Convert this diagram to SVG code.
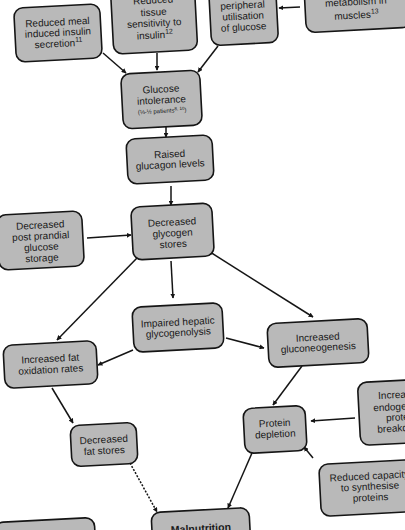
<svg xmlns="http://www.w3.org/2000/svg" width="405" height="530" viewBox="0 0 405 530">
<defs>
<style>
.box{fill:#b9b9b9;stroke:#151515;stroke-width:1.6}
text{font-family:"Liberation Sans",Arial,sans-serif;font-size:10px;fill:#1a1a1a;text-anchor:middle}
.sm{font-size:6px}
.b{font-weight:bold;font-size:10.5px}
.c{stroke:#151515;stroke-width:1.5;fill:none}
.d{stroke-dasharray:2 1.5}
</style>
<marker id="ah" viewBox="0 0 8 8" refX="7" refY="4" markerWidth="5" markerHeight="5" orient="auto" markerUnits="userSpaceOnUse">
<path d="M0,0 L8,4 L0,8 z" fill="#151515"/>
</marker>
</defs>
<rect width="405" height="530" fill="#ffffff"/>

<g id="connectors">
<line class="c" x1="300" y1="7" x2="279" y2="8" marker-end="url(#ah)"/>
<line class="c" x1="103" y1="53" x2="126" y2="73" marker-end="url(#ah)"/>
<line class="c" x1="157" y1="53" x2="157" y2="70" marker-end="url(#ah)"/>
<line class="c" x1="218" y1="46" x2="198" y2="72" marker-end="url(#ah)"/>
<line class="c" x1="166" y1="127" x2="166" y2="137" marker-end="url(#ah)"/>
<line class="c" x1="171" y1="186" x2="171" y2="205" marker-end="url(#ah)"/>
<line class="c" x1="87" y1="238" x2="131" y2="235" marker-end="url(#ah)"/>
<line class="c" x1="137" y1="258" x2="57" y2="340" marker-end="url(#ah)"/>
<line class="c" x1="171" y1="261" x2="173" y2="298" marker-end="url(#ah)"/>
<line class="c" x1="210" y1="252" x2="313" y2="317" marker-end="url(#ah)"/>
<line class="c" x1="133" y1="350" x2="98" y2="365" marker-end="url(#ah)"/>
<line class="c" x1="226" y1="338" x2="264" y2="348" marker-end="url(#ah)"/>
<line class="c" x1="302" y1="366" x2="273" y2="405" marker-end="url(#ah)"/>
<line class="c" x1="52" y1="388" x2="73" y2="423" marker-end="url(#ah)"/>
<line class="c" x1="355" y1="418" x2="311" y2="421" marker-end="url(#ah)"/>
<line class="c" x1="313" y1="458" x2="304" y2="447" marker-end="url(#ah)"/>
<line class="c" x1="252" y1="453" x2="228" y2="508" marker-end="url(#ah)"/>
<line class="c d" x1="130" y1="463" x2="157" y2="512" marker-end="url(#ah)"/>
</g>

<g id="n1" transform="rotate(-3 58 33)">
<rect class="box" x="15" y="6" width="86" height="54" rx="9"/>
<text x="58" y="25.5">Reduced meal</text>
<text x="58" y="36">induced insulin</text>
<text x="58" y="47">secretion<tspan font-size="7" dy="-4">11</tspan></text>
</g>
<g id="n2" transform="rotate(-3 154 18)">
<rect class="box" x="112" y="-15" width="84" height="67" rx="9"/>
<text x="154" y="3.5">Reduced</text>
<text x="154" y="15.5">tissue</text>
<text x="154" y="26.5">sensitivity to</text>
<text x="154" y="38.5">insulin<tspan font-size="7" dy="-4">12</tspan></text>
</g>
<g id="n3" transform="rotate(-3 243 14)">
<rect class="box" x="210" y="-15" width="67" height="59" rx="9"/>
<text x="243" y="8.5">peripheral</text>
<text x="243" y="19.5">utilisation</text>
<text x="243" y="30.5">of glucose</text>
</g>
<g id="n4" transform="rotate(-3 357 5)">
<rect class="box" x="305" y="-20" width="105" height="50" rx="9"/>
<text x="356" y="5">metabolism in</text>
<text x="356" y="18.5">muscles<tspan font-size="7" dy="-4">13</tspan></text>
</g>
<g id="n5" transform="rotate(-3 161.5 99.5)">
<rect class="box" x="122" y="72" width="79" height="55" rx="9"/>
<text x="161.5" y="92.5">Glucose</text>
<text x="161.5" y="103.5">intolerance</text>
<text class="sm" x="161.5" y="113">(⅓-½ patients<tspan font-size="4.5" dy="-2">8, 10</tspan><tspan dy="2">)</tspan></text>
</g>
<g id="n6" transform="rotate(-3 170 159.5)">
<rect class="box" x="127" y="137" width="86" height="45" rx="9"/>
<text x="170" y="157.5">Raised</text>
<text x="170" y="168">glucagon levels</text>
</g>
<g id="n7" transform="rotate(-3 172.5 231.5)">
<rect class="box" x="132" y="205" width="81" height="53" rx="9"/>
<text x="172.5" y="225.5">Decreased</text>
<text x="172.5" y="236.5">glycogen</text>
<text x="172.5" y="247.5">stores</text>
</g>
<g id="n8" transform="rotate(-3 40.5 240.5)">
<rect class="box" x="-2" y="213" width="85" height="55" rx="9"/>
<text x="41" y="228.5">Decreased</text>
<text x="41" y="239.5">post prandial</text>
<text x="41" y="250.5">glucose</text>
<text x="41" y="261.5">storage</text>
</g>
<g id="n9" transform="rotate(-3 50.5 364.5)">
<rect class="box" x="4" y="343" width="93" height="43" rx="9"/>
<text x="50.5" y="362">Increased fat</text>
<text x="50.5" y="373">oxidation rates</text>
</g>
<g id="n10" transform="rotate(-3 178 327.5)">
<rect class="box" x="133" y="305" width="90" height="45" rx="9"/>
<text x="178" y="325.5">Impaired hepatic</text>
<text x="178" y="336">glycogenolysis</text>
</g>
<g id="n11" transform="rotate(-3 318 343)">
<rect class="box" x="268" y="321" width="100" height="44" rx="9"/>
<text x="318" y="340.5">Increased</text>
<text x="318" y="351">gluconeogenesis</text>
</g>
<g id="n12" transform="rotate(-3 104 444.5)">
<rect class="box" x="71" y="424" width="66" height="41" rx="9"/>
<text x="104" y="443">Decreased</text>
<text x="104" y="454">fat stores</text>
</g>
<g id="n13" transform="rotate(-3 275 429.5)">
<rect class="box" x="244" y="407" width="62" height="45" rx="9"/>
<text x="275" y="426.5">Protein</text>
<text x="275" y="437.5">depletion</text>
</g>
<g id="n14" transform="rotate(-3 389 412.5)">
<rect class="box" x="359" y="381" width="60" height="63" rx="9"/>
<text x="401" y="398.5">Increased</text>
<text x="401" y="410.5">endogenous</text>
<text x="401" y="421">protein</text>
<text x="401" y="432">breakdown</text>
</g>
<g id="n15" transform="rotate(-3 367.5 488)">
<rect class="box" x="320" y="462" width="95" height="52" rx="9"/>
<text x="370" y="479.5">Reduced capacity</text>
<text x="370" y="490">to synthesise</text>
<text x="370" y="501">proteins</text>
</g>
<g id="n16" transform="rotate(-3 201 530)">
<rect class="box" x="152" y="510" width="98" height="40" rx="9"/>
<text class="b" x="201" y="532">Malnutrition</text>
</g>
<g id="n17" transform="rotate(-3 45 535)">
<rect class="box" x="-5" y="520" width="100" height="30" rx="9"/>
</g>
</svg>
